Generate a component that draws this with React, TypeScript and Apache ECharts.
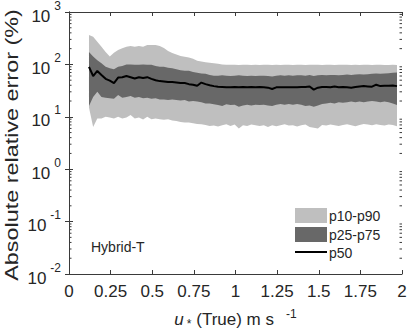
import React, { useEffect, useRef } from "react";
import * as echarts from "echarts";

// friction velocity bins (m s^-1)
const X = [
  0.12, 0.145, 0.17, 0.195, 0.22, 0.245, 0.27, 0.295, 0.32, 0.345,
  0.37, 0.395, 0.42, 0.445, 0.47, 0.495, 0.52, 0.545, 0.57, 0.595,
  0.62, 0.645, 0.67, 0.695, 0.72, 0.745, 0.77, 0.795, 0.82, 0.845,
  0.87, 0.895, 0.92, 0.945, 0.97, 0.995, 1.02, 1.045, 1.07, 1.095,
  1.12, 1.145, 1.17, 1.195, 1.22, 1.245, 1.27, 1.295, 1.32, 1.345,
  1.37, 1.395, 1.42, 1.445, 1.47, 1.495, 1.52, 1.545, 1.57, 1.595,
  1.62, 1.645, 1.67, 1.695, 1.72, 1.745, 1.77, 1.795, 1.82, 1.845,
  1.87, 1.895, 1.92, 1.945, 1.97,
];

const P10 = [
  15, 6.4, 9.3, 9.3, 10, 9.7, 9.3, 10, 9.3, 9.7,
  10.8, 9.3, 9.7, 8.9, 10, 9, 9.3, 9.0, 8.8, 9.0,
  8.5, 8.3, 8.0, 7.8, 7.8, 7.5, 7.3, 7.2, 7.0, 6.7,
  6.8, 6.5, 6.9, 7.2, 6.7, 7.1, 6.0, 6.9, 6.7, 7.1,
  6.9, 6.7, 6.9, 6.4, 6.9, 6.6, 6.9, 7.2, 6.8, 6.9,
  6.5, 6.9, 7.1, 6.4, 6.2, 6.0, 7.0, 6.8, 7.1, 6.9,
  6.7, 7.0, 7.2, 6.9, 6.6, 7.0, 7.3, 7.1, 6.9, 7.2,
  7.0, 6.8, 7.1, 7.0, 6.6,
];

const P25 = [
  16, 24, 30, 24, 23, 22.5, 22, 26, 23, 24,
  25, 23, 24, 22.5, 23, 22, 22.5, 21.5, 21.5, 21,
  21.5, 21, 20.5, 21, 19.5, 20, 19.5, 19, 18, 18,
  17.4, 16.8, 16, 17.4, 16.8, 17, 15.5, 16.5, 17, 16.5,
  17, 16.8, 17, 16.5, 16, 17, 17.5, 17, 17.5, 17,
  17.5, 17, 16, 16.5, 15.5, 16.5, 17.5, 18, 18.5, 18,
  19, 18.5, 19, 19.5, 19, 19.5, 19, 19.5, 20, 19.5,
  19, 19.5, 19, 18, 16.8,
];

const P50 = [
  90, 60, 75, 63, 53, 49, 44, 56, 57, 60,
  57, 54, 57, 55, 57, 53, 50, 48, 47, 46,
  46, 45, 44, 44, 42, 41, 39, 45, 42, 40,
  38.5, 37.5, 37, 36.5, 36.5, 37, 36.5, 37, 36.5, 37,
  36.5, 37, 36.5, 36, 34, 36.5, 36.5, 36.5, 36.5, 36.5,
  36.5, 37, 37, 38, 33, 36, 37, 37, 36.5, 38,
  36.5, 37, 36.5, 36, 37, 38, 38.5, 38, 37.5, 41,
  38.5, 39, 39, 39.5, 38.5,
];

const P75 = [
  173, 141, 120, 105, 90, 84, 81, 90, 93, 100,
  100, 99, 98, 100, 99, 98, 93, 90, 90, 86,
  84, 81, 77, 76, 76, 72, 69, 67, 66, 63,
  61, 61, 62, 61, 60, 61, 62, 61, 60, 61,
  60, 61, 61, 60, 59, 61, 62, 61, 62, 61,
  62, 62, 61, 63, 60, 62, 63, 62, 63, 63,
  62, 63, 64, 63, 64, 65, 64, 65, 66, 67,
  66, 67, 68, 69, 70,
];

const P90 = [
  363, 338, 270, 218, 173, 141, 167, 188, 204, 218,
  225, 218, 225, 218, 234, 234, 234, 225, 205, 180,
  165, 155, 145, 140, 135, 128, 118, 113, 110, 108,
  105, 103, 100, 98, 99, 98, 97, 98, 99, 97,
  98, 97, 98, 99, 97, 98, 97, 98, 98, 97,
  99, 98, 97, 98, 99, 98, 97, 98, 98, 97,
  98, 98, 99, 97, 98, 97, 98, 98, 97, 98,
  98, 97, 97, 98, 97,
];

const MINOR_MULTS = [2, 3, 4, 5, 6, 7, 8, 9];
const MINOR_DECADES = [0.01, 0.1, 1, 10, 100];

const LEGEND_LABELS = ["p10-p90", "p25-p75", "p50"];
const PANEL_LABEL = "Hybrid-T";
const Y_TITLE = "Absolute relative error (%)";

const FONT = "'Liberation Sans', Arial, Helvetica, sans-serif";
const LIGHT = "#bfbfbf";
const DARK = "#686868";
const AXIS = "#3a3a3a";
const TEXT = "#262626";

function bandRenderer(lower: number[], upper: number[], color: string) {
  return (_params: any, api: any) => {
    const pts: number[][] = [];
    for (let i = 0; i < X.length; i++) pts.push(api.coord([X[i], upper[i]]));
    for (let i = X.length - 1; i >= 0; i--) pts.push(api.coord([X[i], lower[i]]));
    return {
      type: "polygon",
      shape: { points: pts },
      style: { fill: color, stroke: null },
    };
  };
}

function minorTickRenderer(_params: any, api: any) {
  const children: any[] = [];
  for (const d of MINOR_DECADES) {
    for (const m of MINOR_MULTS) {
      const v = d * m;
      const l = api.coord([0, v]);
      const r = api.coord([2, v]);
      children.push({
        type: "line",
        shape: { x1: l[0], y1: l[1], x2: l[0] + 2.5, y2: l[1] },
        style: { stroke: AXIS, lineWidth: 1 },
      });
      children.push({
        type: "line",
        shape: { x1: r[0], y1: r[1], x2: r[0] - 2.5, y2: r[1] },
        style: { stroke: AXIS, lineWidth: 1 },
      });
    }
  }
  return { type: "group", children };
}

export default function App() {
  const ref = useRef<HTMLDivElement>(null);

  useEffect(() => {
    document.body.style.margin = "0";
    const chart = echarts.init(ref.current!, null, { renderer: "svg" });

    const axisCommon = {
      axisLine: { show: true, lineStyle: { color: AXIS, width: 1 } },
      splitLine: { show: false },
    };

    chart.setOption({
      animation: false,
      textStyle: { fontFamily: FONT },
      grid: {
        left: 69,
        right: 5,
        top: 12,
        bottom: 58,
        containLabel: false,
        outerBoundsMode: "none",
      },
      xAxis: [
        {
          type: "value",
          min: 0,
          max: 2,
          interval: 0.25,
          position: "bottom",
          ...axisCommon,
          axisTick: { inside: true, length: 4, lineStyle: { color: AXIS } },
          axisLabel: { fontSize: 17, color: TEXT, margin: 9, fontFamily: FONT },
          name: "{i|u}{sub|*}{n| (True) m s}{sup|-1}",
          nameLocation: "middle",
          nameGap: 34,
          nameTextStyle: {
            color: TEXT,
            fontFamily: FONT,
            rich: {
              i: { fontSize: 17, fontStyle: "italic", color: TEXT, fontFamily: FONT },
              sub: { fontSize: 12, color: TEXT, verticalAlign: "bottom", padding: [10, 0, 0, 3], fontFamily: FONT },
              n: { fontSize: 17, color: TEXT, fontFamily: FONT },
              sup: { fontSize: 12, color: TEXT, verticalAlign: "top", padding: [0, 0, 10, 12], fontFamily: FONT },
            },
          },
        },
        {
          type: "value",
          min: 0,
          max: 2,
          interval: 0.25,
          position: "top",
          ...axisCommon,
          axisTick: { inside: true, length: 4, lineStyle: { color: AXIS } },
          axisLabel: { show: false },
        },
      ],
      yAxis: [
        {
          type: "log",
          logBase: 10,
          min: 0.01,
          max: 1000,
          position: "left",
          ...axisCommon,
          axisTick: { inside: true, length: 4, lineStyle: { color: AXIS } },
          axisLabel: {
            margin: 8,
            formatter: (v: number) => `{b|10}{s|${Math.round(Math.log10(v))}}`,
            rich: {
              b: { fontSize: 17, color: TEXT, fontFamily: FONT, verticalAlign: "bottom", padding: [8, 0, 0, 0] },
              s: { fontSize: 12, color: TEXT, fontFamily: FONT, verticalAlign: "top", padding: [0, 0, 8, 4] },
            },
          },
        },
        {
          type: "log",
          logBase: 10,
          min: 0.01,
          max: 1000,
          position: "right",
          ...axisCommon,
          axisTick: { inside: true, length: 4, lineStyle: { color: AXIS } },
          axisLabel: { show: false },
        },
      ],
      series: [
        {
          type: "custom",
          name: LEGEND_LABELS[0],
          renderItem: bandRenderer(P10, P90, LIGHT),
          data: [[X[0], P50[0]]],
          z: 1,
          silent: true,
        },
        {
          type: "custom",
          name: LEGEND_LABELS[1],
          renderItem: bandRenderer(P25, P75, DARK),
          data: [[X[0], P50[0]]],
          z: 2,
          silent: true,
        },
        {
          type: "line",
          name: LEGEND_LABELS[2],
          data: X.map((x, i) => [x, P50[i]]),
          showSymbol: false,
          lineStyle: { color: "#000", width: 2 },
          z: 3,
        },
        {
          type: "custom",
          renderItem: minorTickRenderer,
          data: [[0, 1]],
          z: 4,
          silent: true,
        },
      ],
      graphic: [
        {
          type: "text",
          x: 12,
          y: 145,
          rotation: Math.PI / 2,
          scaleX: 1.3,
          scaleY: 1,
          style: {
            text: Y_TITLE,
            fontSize: 18,
            fill: TEXT,
            fontFamily: FONT,
            align: "center",
            verticalAlign: "middle",
          },
        },
        { type: "rect", shape: { x: 295, y: 208, width: 32, height: 15 }, style: { fill: LIGHT } },
        { type: "rect", shape: { x: 295, y: 227, width: 32, height: 15 }, style: { fill: DARK } },
        { type: "line", shape: { x1: 295, y1: 252, x2: 327, y2: 252 }, style: { stroke: "#000", lineWidth: 2 } },
        { type: "text", x: 329, y: 216, style: { text: LEGEND_LABELS[0], fontSize: 14, fill: TEXT, fontFamily: FONT, verticalAlign: "middle" } },
        { type: "text", x: 329, y: 234.5, style: { text: LEGEND_LABELS[1], fontSize: 14, fill: TEXT, fontFamily: FONT, verticalAlign: "middle" } },
        { type: "text", x: 329, y: 253, style: { text: LEGEND_LABELS[2], fontSize: 14, fill: TEXT, fontFamily: FONT, verticalAlign: "middle" } },
        { type: "text", x: 91, y: 247, style: { text: PANEL_LABEL, fontSize: 14, fill: TEXT, fontFamily: FONT, verticalAlign: "middle" } },
      ],
    });

    return () => chart.dispose();
  }, []);

  return <div ref={ref} style={{ width: 407, height: 332 }} />;
}
